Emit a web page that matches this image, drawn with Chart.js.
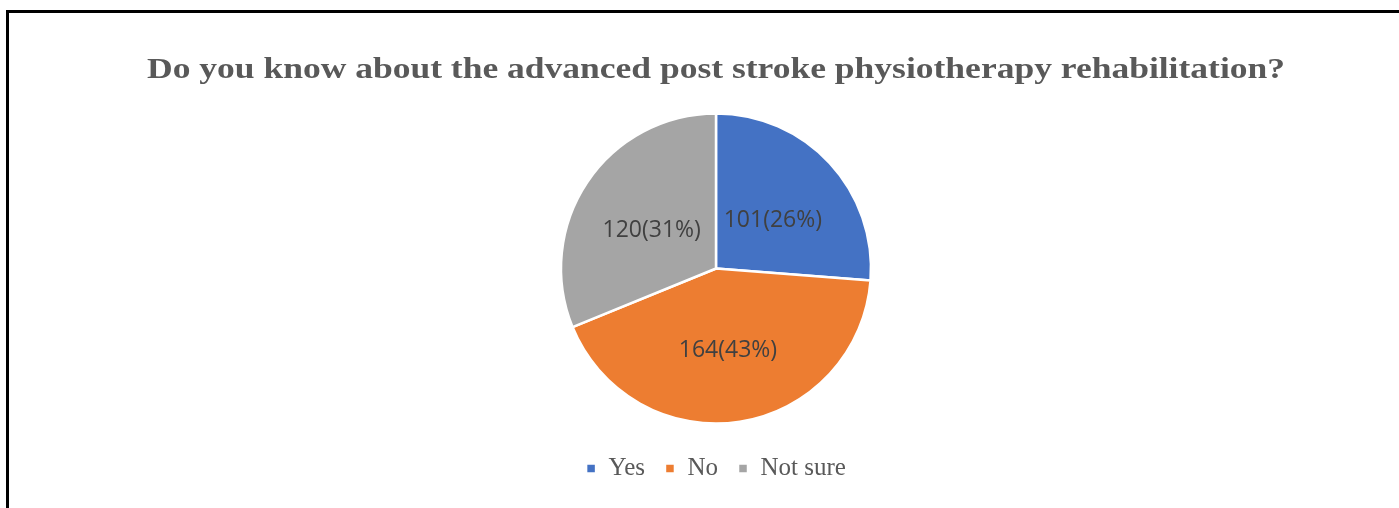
<!DOCTYPE html>
<html>
<head>
<meta charset="utf-8">
<script src="https://cdn.jsdelivr.net/npm/chart.js@4.4.1/dist/chart.umd.min.js"></script>
<style>
    html, body { margin: 0; padding: 0; background: #fff; }
    .wrap { position: relative; width: 1399px; height: 508px; overflow: hidden; }
    .frame { position: absolute; left: 6px; top: 10px; right: -10px; bottom: -10px; border-left: 3px solid #000; border-top: 3px solid #000; }
    canvas { position: absolute; left: 0; top: 0; }
</style>
</head>
<body>
<div class="wrap">
    <div class="frame"></div>
    <canvas id="pie-chart" width="1399" height="508"></canvas>
</div>
<script>
const chartTitle = "Do you know about the advanced post stroke physiotherapy rehabilitation?";
const categories = ["Yes", "No", "Not sure"];
const counts = [101, 164, 120];
const sliceColors = ["#4472C4", "#ED7D31", "#A5A5A5"];

document.addEventListener("DOMContentLoaded", function () {
    const ctx = document.getElementById("pie-chart").getContext("2d");
    const total = counts.reduce((a, b) => a + b, 0);
    const titleFont = "bold 30px 'Liberation Serif'";
    const titleWidth = 1138; // the original title is drawn a bit wider than Times

    // Draw "n(p%)" inside each slice, halfway out
    const sliceLabels = {
        id: "sliceLabels",
        afterDatasetsDraw(chart) {
            const c = chart.ctx;
            const meta = chart.getDatasetMeta(0);
            c.save();
            c.font = "23px 'Open Sans'";
            c.fillStyle = "#404040";
            c.textAlign = "center";
            c.textBaseline = "middle";
            meta.data.forEach((arc, i) => {
                const pos = arc.tooltipPosition();
                const pct = Math.round(counts[i] / total * 100);
                c.fillText(counts[i] + "(" + pct + "%)", pos.x, pos.y + 5);
            });
            c.restore();
        }
    };

    // Title drawn by hand so it can be stretched; the built-in title only keeps the space
    const wideTitle = {
        id: "wideTitle",
        afterDraw(chart) {
            const c = chart.ctx;
            const tb = chart.titleBlock;
            const cx = (tb.left + tb.right) / 2;
            const cy = tb.top + 50 + 18 + 2;
            c.save();
            c.font = titleFont;
            const w = c.measureText(chartTitle).width;
            c.translate(cx, cy);
            c.scale(titleWidth / w, 1);
            c.fillStyle = "#595959";
            c.textAlign = "center";
            c.textBaseline = "middle";
            c.fillText(chartTitle, 0, 0);
            c.restore();
        }
    };

    new Chart(ctx, {
        type: "pie",
        data: {
            labels: categories,
            datasets: [{
                data: counts,
                backgroundColor: sliceColors,
                borderColor: "#ffffff",
                borderWidth: 2.5,
                hoverOffset: 0
            }]
        },
        options: {
            responsive: false,
            animation: false,
            radius: 155,
            layout: { padding: { left: 33, right: 0, top: 0, bottom: 17 } },
            plugins: {
                title: {
                    display: true,
                    text: chartTitle,
                    color: "rgba(0,0,0,0)",
                    font: { family: "'Liberation Serif'", size: 30, weight: "bold" },
                    padding: { top: 50, bottom: 15 }
                },
                legend: {
                    position: "bottom",
                    labels: {
                        color: "#595959",
                        font: { family: "'Liberation Serif'", size: 25 },
                        boxWidth: 10,
                        boxHeight: 10,
                        padding: 20
                    }
                },
                tooltip: { enabled: false }
            }
        },
        plugins: [sliceLabels, wideTitle]
    });
});
</script>
</body>
</html>
